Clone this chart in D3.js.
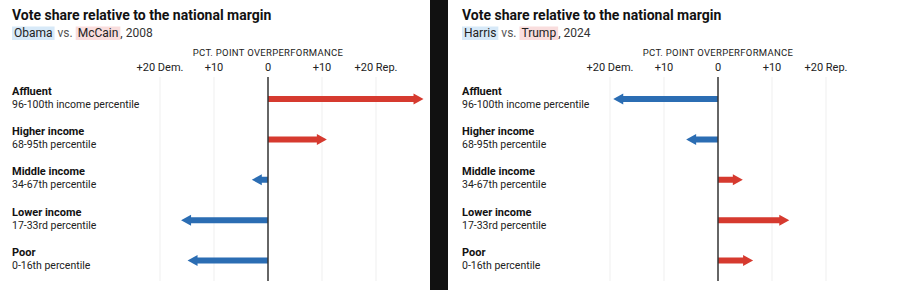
<!DOCTYPE html>
<html lang="en">
<head>
  <meta charset="UTF-8" />
  <title>Vote share relative to the national margin</title>
  <script src="https://d3js.org/d3.v7.min.js"></script>
  <style>
    body {
      margin: 0;
      background: #fff;
    }
    svg {
      display: block;
      font-family: Roboto, "Liberation Sans", Arial, sans-serif;
    }
    svg text {
      white-space: pre;
    }
    .grid {
      stroke: #efefef;
      stroke-width: 1px;
    }
    .zero {
      stroke: #333;
      stroke-width: 1.5px;
    }
  </style>
</head>
<body>
  <svg width="900" height="290"></svg>

  <script>
    // rows, top to bottom
    const groups = ["Affluent", "Higher income", "Middle income", "Lower income", "Poor"];
    const percentiles = [
      "96-100th income percentile",
      "68-95th percentile",
      "34-67th percentile",
      "17-33rd percentile",
      "0-16th percentile"
    ];

    // pct. point overperformance, positive = Rep., negative = Dem.
    const shift2008 = [28.8, 10.9, -3.0, -16.1, -14.9];
    const shift2024 = [-19.4, -5.9, 4.6, 13.2, 6.5];

    const tickValues = [-20, -10, 0, 10, 20];
    const tickLabels = ["+20 Dem.", "+10", "0", "+10", "+20 Rep."];

    const panels = [
      { dem: "Obama", rep: "McCain", year: "2008", values: shift2008, left: 0 },
      { dem: "Harris", rep: "Trump", year: "2024", values: shift2024, left: 450 }
    ];

    const blue = "#2b6db3";
    const red = "#d63a2f";

    const svg = d3.select("svg");

    // dark divider between the two panels
    svg.append("rect")
      .attr("x", 430).attr("y", 0)
      .attr("width", 18).attr("height", 290)
      .attr("fill", "#111");

    const y = d3.scalePoint()
      .domain(groups)
      .range([99, 260.5]);

    panels.forEach(p => {
      const g = svg.append("g").attr("transform", `translate(${p.left},0)`);

      const x = d3.scaleLinear()
        .domain([-20, 20])
        .range([160, 376]);

      // title
      g.append("text")
        .attr("x", 12)
        .attr("y", 20)
        .attr("font-size", 14)
        .attr("font-weight", 700)
        .attr("fill", "#121212")
        .text("Vote share relative to the national margin");

      // subtitle with highlighted names
      const sub = g.append("g").attr("font-size", 12);
      let cx = 12;
      const parts = [
        { t: p.dem, bg: "#d7e9f8", fill: "#222" },
        { t: " vs. ", bg: null, fill: "#555" },
        { t: p.rep, bg: "#f9dddd", fill: "#222" },
        { t: ", " + p.year, bg: null, fill: "#333" }
      ];
      parts.forEach(part => {
        const pad = part.bg ? 2 : 0;
        cx += pad;
        const txt = sub.append("text")
          .attr("x", cx)
          .attr("y", 37)
          .attr("fill", part.fill)
          .text(part.t);
        const w = txt.node().getComputedTextLength();
        if (part.bg) {
          sub.insert("rect", "text")
            .attr("x", cx - 2)
            .attr("y", 26.5)
            .attr("width", w + 4)
            .attr("height", 13.5)
            .attr("fill", part.bg);
        }
        cx += w + pad;
      });

      // axis title
      g.append("text")
        .attr("x", x(0))
        .attr("y", 56)
        .attr("text-anchor", "middle")
        .attr("font-size", 9.5)
        .attr("letter-spacing", 0.3)
        .attr("fill", "#222")
        .text("PCT. POINT OVERPERFORMANCE");

      // tick labels
      g.selectAll("text.tick")
        .data(tickValues)
        .enter()
        .append("text")
        .attr("class", "tick")
        .attr("x", d => x(d))
        .attr("y", 71)
        .attr("text-anchor", "middle")
        .attr("font-size", 11)
        .attr("fill", "#222")
        .text((d, i) => tickLabels[i]);

      // gridlines
      g.selectAll("line.grid")
        .data(tickValues.filter(d => d !== 0))
        .enter()
        .append("line")
        .attr("class", "grid")
        .attr("x1", d => x(d)).attr("x2", d => x(d))
        .attr("y1", 77).attr("y2", 281);

      // row labels
      groups.forEach((name, i) => {
        g.append("text")
          .attr("x", 12)
          .attr("y", y(name) - 4.5)
          .attr("font-size", 11)
          .attr("font-weight", 700)
          .attr("fill", "#121212")
          .text(name);
        g.append("text")
          .attr("x", 12)
          .attr("y", y(name) + 8.5)
          .attr("font-size", 10.5)
          .attr("fill", "#222")
          .text(percentiles[i]);
      });

      // arrows
      const shaft = 3, headH = 5.5, headL = 10;
      g.selectAll("path.arrow")
        .data(p.values)
        .enter()
        .append("path")
        .attr("class", "arrow")
        .attr("fill", d => d > 0 ? red : blue)
        .attr("d", (d, i) => {
          const x0 = x(0), x1 = x(d), cy = y(groups[i]);
          const dir = d > 0 ? 1 : -1;
          const xb = x1 - dir * headL;
          const pth = d3.path();
          pth.moveTo(x0, cy - shaft);
          pth.lineTo(xb, cy - shaft);
          pth.lineTo(xb, cy - headH);
          pth.lineTo(x1, cy);
          pth.lineTo(xb, cy + headH);
          pth.lineTo(xb, cy + shaft);
          pth.lineTo(x0, cy + shaft);
          pth.closePath();
          return pth.toString();
        });

      // zero line
      g.append("line")
        .attr("class", "zero")
        .attr("x1", x(0)).attr("x2", x(0))
        .attr("y1", 77).attr("y2", 281);
    });
  </script>
</body>
</html>
